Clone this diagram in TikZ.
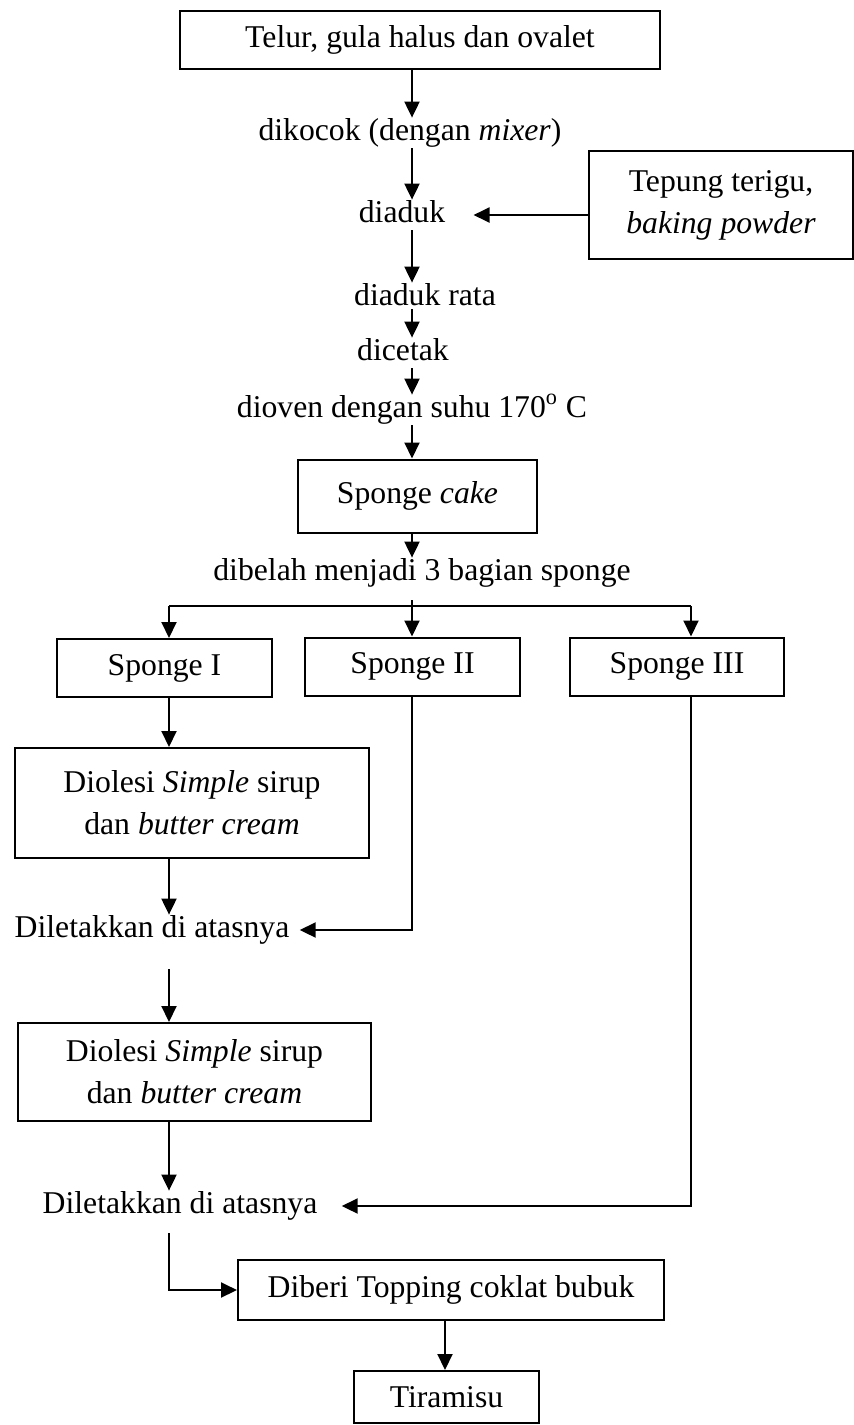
\documentclass[tikz,border=0pt]{standalone}
\usepackage{fontspec}
\setmainfont{Liberation Serif}
\usetikzlibrary{arrows.meta}

\begin{document}
\begin{tikzpicture}[x=0.5pt,y=-0.5pt,
    font=\fontsize{15.85}{21}\selectfont,
    box/.style={draw,line width=1pt,align=center,inner sep=0pt},
    txt/.style={inner xsep=2pt,inner ysep=0pt,text height=11pt,text depth=4pt},
    arr/.style={-{Triangle[length=8pt,width=7.5pt]},line width=1pt}]
  \useasboundingbox (0,0) rectangle (854,1425);
  \coordinate (top) at (412,0);
  \coordinate (lcol) at (169,0);
  \coordinate (rcol) at (691,0);
  \coordinate (bcol) at (445,0);

  \node[box,minimum width=240pt,minimum height=29pt] (telur) at (420,40) {Telur, gula halus dan ovalet};
  \node[txt] (kocok) at (410,133) {dikocok (dengan \textit{mixer})};
  \node[txt] (aduk) at (402,215) {diaduk};
  \node[box,minimum width=132pt,minimum height=54pt] (tepung) at (721,205) {Tepung terigu,\\\textit{baking powder}};
  \node[txt] (rata) at (425,298) {diaduk rata};
  \node[txt] (cetak) at (403,353) {dicetak};
  \node[txt] (oven) at (412,410) {dioven dengan suhu 170\textsuperscript{o} C};
  \node[box,minimum width=119.5pt,minimum height=36.5pt] (cake) at (417.5,496) {Sponge \textit{cake}};
  \node[txt] (belah) at (422,573) {dibelah menjadi 3 bagian sponge};
  \node[box,minimum width=107.5pt,minimum height=29pt] (spA) at (164.5,668) {Sponge I};
  \node[box,minimum width=107.5pt,minimum height=29pt] (spB) at (412.5,666.5) {Sponge II};
  \node[box,minimum width=107pt,minimum height=29pt] (spC) at (677,666.5) {Sponge III};
  \node[box,minimum width=177pt,minimum height=55pt] (olesA) at (192,803) {Diolesi \textit{Simple} sirup\\dan \textit{butter cream}};
  \node[txt] (letakA) at (152,930) {Diletakkan di atasnya};
  \node[box,minimum width=176.5pt,minimum height=49pt] (olesB) at (194.5,1072) {Diolesi \textit{Simple} sirup\\dan \textit{butter cream}};
  \node[txt] (letakB) at (180,1206) {Diletakkan di atasnya};
  \node[box,minimum width=213pt,minimum height=30pt] (topping) at (451,1290) {Diberi Topping coklat bubuk};
  \node[box,minimum width=92.5pt,minimum height=26pt] (tiramisu) at (446.5,1397) {Tiramisu};

  \draw[arr] (telur.south -| top) -- (kocok.north -| top);
  \draw[arr] (kocok.south -| top) -- (aduk.north -| top);
  \draw[arr,shorten >=12pt] (tepung.west |- aduk) -- (aduk.east);
  \draw[arr] (aduk.south -| top) -- (rata.north -| top);
  \draw[arr,shorten <=-2pt] (rata.south -| top) -- (cetak.north -| top);
  \draw[arr] (cetak.south -| top) -- (oven.north -| top);
  \draw[arr] (oven.south -| top) -- (cake.north -| top);
  \draw[arr] (cake.south -| top) -- (belah.north -| top);
  \coordinate (split) at (412,606);
  \draw[line width=1pt,shorten <=6pt] (belah.south -| split) -- (split);
  \draw[line width=1pt] (split -| lcol) -- (split -| rcol);
  \draw[arr] (split -| lcol) -- (spA.north -| lcol);
  \draw[arr] (split) -- (spB.north -| split);
  \draw[arr] (split -| rcol) -- (spC.north -| rcol);
  \draw[arr] (spA.south -| lcol) -- (olesA.north -| lcol);
  \draw[arr] (olesA.south -| lcol) -- (letakA.north -| lcol);
  \draw[arr,shorten >=3pt] (spB.south -| top) |- (letakA.east);
  \draw[arr,shorten <=12pt] (letakA.south -| lcol) -- (olesB.north -| lcol);
  \draw[arr] (olesB.south -| lcol) -- (letakB.north -| lcol);
  \draw[arr,shorten >=10pt] (spC.south -| rcol) |- (letakB.east);
  \draw[arr,shorten <=6pt] (letakB.south -| lcol) |- (topping.west);
  \draw[arr] (topping.south -| bcol) -- (tiramisu.north -| bcol);
\end{tikzpicture}
\end{document}
